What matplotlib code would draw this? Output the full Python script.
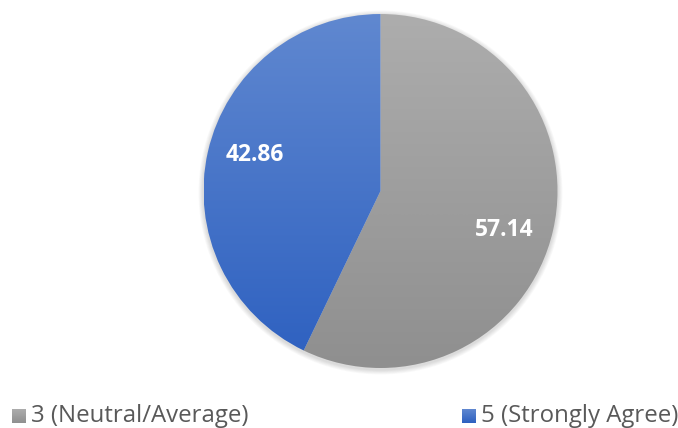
import numpy as np
import matplotlib.pyplot as plt
from matplotlib.colors import LinearSegmentedColormap
from matplotlib.patches import Rectangle, Circle

labels = ["3 (Neutral/Average)", "5 (Strongly Agree)"]
values = [57.14, 42.86]
value_text = ["57.14", "42.86"]
top_colors = ["#adadad", "#6088d0"]
bottom_colors = ["#8f8f8f", "#2d60c0"]


def plot():
    """pie with vertical gradient fills"""
    fig = plt.figure(figsize=(6.78, 4.28), dpi=100)
    ax = fig.add_axes([0, 0, 1, 1])

    cx, cy, r = 380.5, 237, 177

    # soft shadow
    for k in range(6):
        ax.add_patch(Circle((cx, cy - 1.5), r + 1 + k * 0.8, color="black",
                            alpha=0.025, lw=0, zorder=0))

    wedges, _ = ax.pie(values, startangle=90, counterclock=False,
                       center=(cx, cy), radius=r, frame=True,
                       wedgeprops=dict(linewidth=0))

    grad = np.linspace(0, 1, 256).reshape(-1, 1)
    for w, c0, c1 in zip(wedges, top_colors, bottom_colors):
        cmap = LinearSegmentedColormap.from_list("g", [c0, c1])
        im = ax.imshow(grad, cmap=cmap, aspect="auto",
                       extent=(cx - r, cx + r, cy - r, cy + r),
                       origin="upper", zorder=2)
        w.set_facecolor("none")
        im.set_clip_path(w)

    # value labels
    ax.text(504, 428 - 230, value_text[0], color="white", fontsize=16.5,
            fontweight="bold", family="Open Sans", ha="center", va="center", zorder=5)
    ax.text(254.5, 428 - 155, value_text[1], color="white", fontsize=16.5,
            fontweight="bold", family="Open Sans", ha="center", va="center", zorder=5)

    # legend
    leg_x = [11.5, 461.5]
    ly = 428 - 415.5
    sz = 14
    for x, lab, c0, c1 in zip(leg_x, labels, top_colors, bottom_colors):
        sq = Rectangle((x, ly - sz / 2), sz, sz, lw=0, facecolor="none")
        ax.add_patch(sq)
        cmap = LinearSegmentedColormap.from_list("g", [c0, c1])
        im = ax.imshow(grad, cmap=cmap, aspect="auto",
                       extent=(x, x + sz, ly - sz / 2, ly + sz / 2),
                       origin="upper", zorder=3)
        im.set_clip_path(sq)
        ax.text(x + 19.5, ly, lab, color="#595959", fontsize=17.3,
                family="Open Sans", ha="left", va="center")

    ax.set_xlim(0, 678)
    ax.set_ylim(0, 428)
    ax.set_aspect("equal")
    ax.axis("off")
    fig.savefig("out.png", dpi=100)


def main():
    plot()


if __name__ == "__main__":
    main()
